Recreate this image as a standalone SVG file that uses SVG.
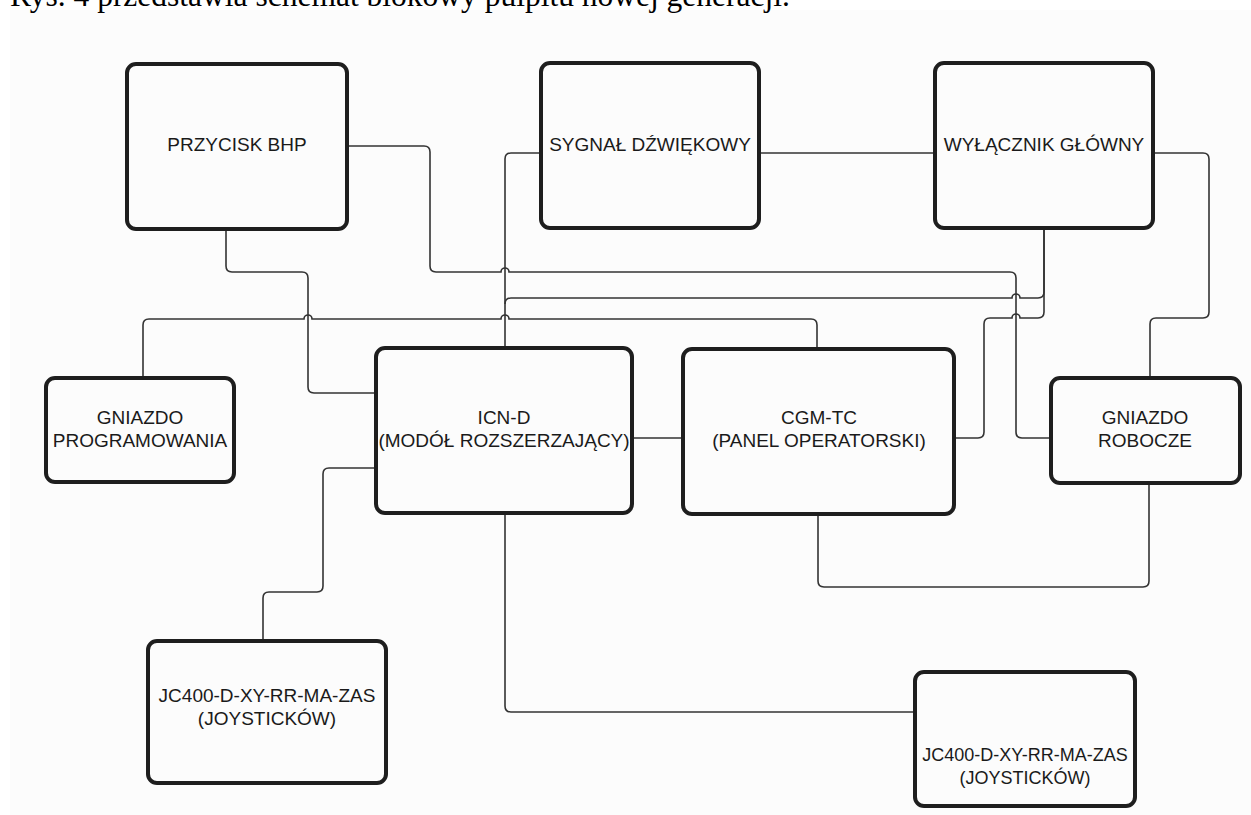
<svg xmlns="http://www.w3.org/2000/svg" width="1251" height="815" viewBox="0 0 1251 815">
  <style>
    .box { fill: none; stroke: #1e1e1e; stroke-width: 4; }
    .lbl { font-family: "Liberation Sans", Arial, sans-serif; font-size: 19px; fill: #1a1a1a; text-anchor: middle; }
    .conn path { fill: none; stroke: #333; stroke-width: 1.6; }
    .cap { font-family: "Liberation Serif", "Times New Roman", serif; font-size: 31.5px; fill: #000; }
  </style>
  <rect x="0" y="0" width="1251" height="815" fill="#ffffff"/>
  <rect x="10" y="10" width="1241" height="805" fill="#fcfcfc"/>
  <text class="cap" x="10" y="6">Rys. 4 przedstawia schemat blokowy pulpitu nowej generacji.</text>

  <g id="connectors" class="conn">
    <path d="M347,146 H424 Q430,146 430,152 V266 Q430,272 436,272 H501 a4,4 0 0 1 8,0 H1010 Q1016,272 1016,278 V432 Q1016,438 1022,438 H1051"/>
    <path d="M541,153 H511 Q505,153 505,159 V348"/>
    <path d="M505,304 Q505,298 511,298 H1012 a4,4 0 0 1 8,0 H1038 Q1044,298 1044,292 V228"/>
    <path d="M954,438 H978 Q984,438 984,432 V324 Q984,318 990,318 H1012 a4,4 0 0 1 8,0 H1038 Q1044,318 1044,312 V228"/>
    <path d="M143,378 V325 Q143,319 149,319 H304 a4,4 0 0 1 8,0 H501 a4,4 0 0 1 8,0 H811 Q817,319 817,325 V349"/>
    <path d="M226,229 V266 Q226,272 232,272 H302 Q308,272 308,278 V387 Q308,393 314,393 H376"/>
    <path d="M376,468 H329 Q323,468 323,474 V586 Q323,592 317,592 H269 Q263,592 263,598 V641"/>
    <path d="M759,153 H935"/>
    <path d="M1153,153 H1203 Q1209,153 1209,159 V312 Q1209,318 1203,318 H1156 Q1150,318 1150,324 V378"/>
    <path d="M632,438 H683"/>
    <path d="M818,514 V581 Q818,587 824,587 H1143 Q1149,587 1149,581 V483"/>
    <path d="M505,513 V706 Q505,712 511,712 H915"/>
  </g>

  <g id="przycisk-bhp">
    <rect class="box" x="127" y="64" width="220" height="165" rx="9"/>
    <text class="lbl" x="237" y="151">PRZYCISK BHP</text>
  </g>
  <g id="sygnal-dzwiekowy">
    <rect class="box" x="541" y="63" width="218" height="165" rx="9"/>
    <text class="lbl" x="650" y="151">SYGNAŁ DŹWIĘKOWY</text>
  </g>
  <g id="wylacznik-glowny">
    <rect class="box" x="935" y="63" width="218" height="165" rx="9"/>
    <text class="lbl" x="1044" y="151">WYŁĄCZNIK GŁÓWNY</text>
  </g>
  <g id="gniazdo-programowania">
    <rect class="box" x="46" y="378" width="188" height="104" rx="9"/>
    <text class="lbl" x="140" y="424">GNIAZDO</text>
    <text class="lbl" x="140" y="447">PROGRAMOWANIA</text>
  </g>
  <g id="icn-d">
    <rect class="box" x="376" y="348" width="256" height="165" rx="9"/>
    <text class="lbl" x="504" y="424">ICN-D</text>
    <text class="lbl" x="504" y="447">(MODÓŁ ROZSZERZAJĄCY)</text>
  </g>
  <g id="cgm-tc">
    <rect class="box" x="683" y="349" width="271" height="165" rx="9"/>
    <text class="lbl" x="819" y="424">CGM-TC</text>
    <text class="lbl" x="819" y="447">(PANEL OPERATORSKI)</text>
  </g>
  <g id="gniazdo-robocze">
    <rect class="box" x="1051" y="378" width="189" height="105" rx="9"/>
    <text class="lbl" x="1145" y="424">GNIAZDO</text>
    <text class="lbl" x="1145" y="447">ROBOCZE</text>
  </g>
  <g id="jc400-left">
    <rect class="box" x="148" y="641" width="238" height="142" rx="9"/>
    <text class="lbl" x="267" y="702">JC400-D-XY-RR-MA-ZAS</text>
    <text class="lbl" x="267" y="725">(JOYSTICKÓW)</text>
  </g>
  <g id="jc400-right">
    <rect class="box" x="915" y="672" width="220" height="134" rx="9"/>
    <text class="lbl" x="1025" y="761" style="font-size:18px">JC400-D-XY-RR-MA-ZAS</text>
    <text class="lbl" x="1025" y="784" style="font-size:18px">(JOYSTICKÓW)</text>
  </g>
</svg>
